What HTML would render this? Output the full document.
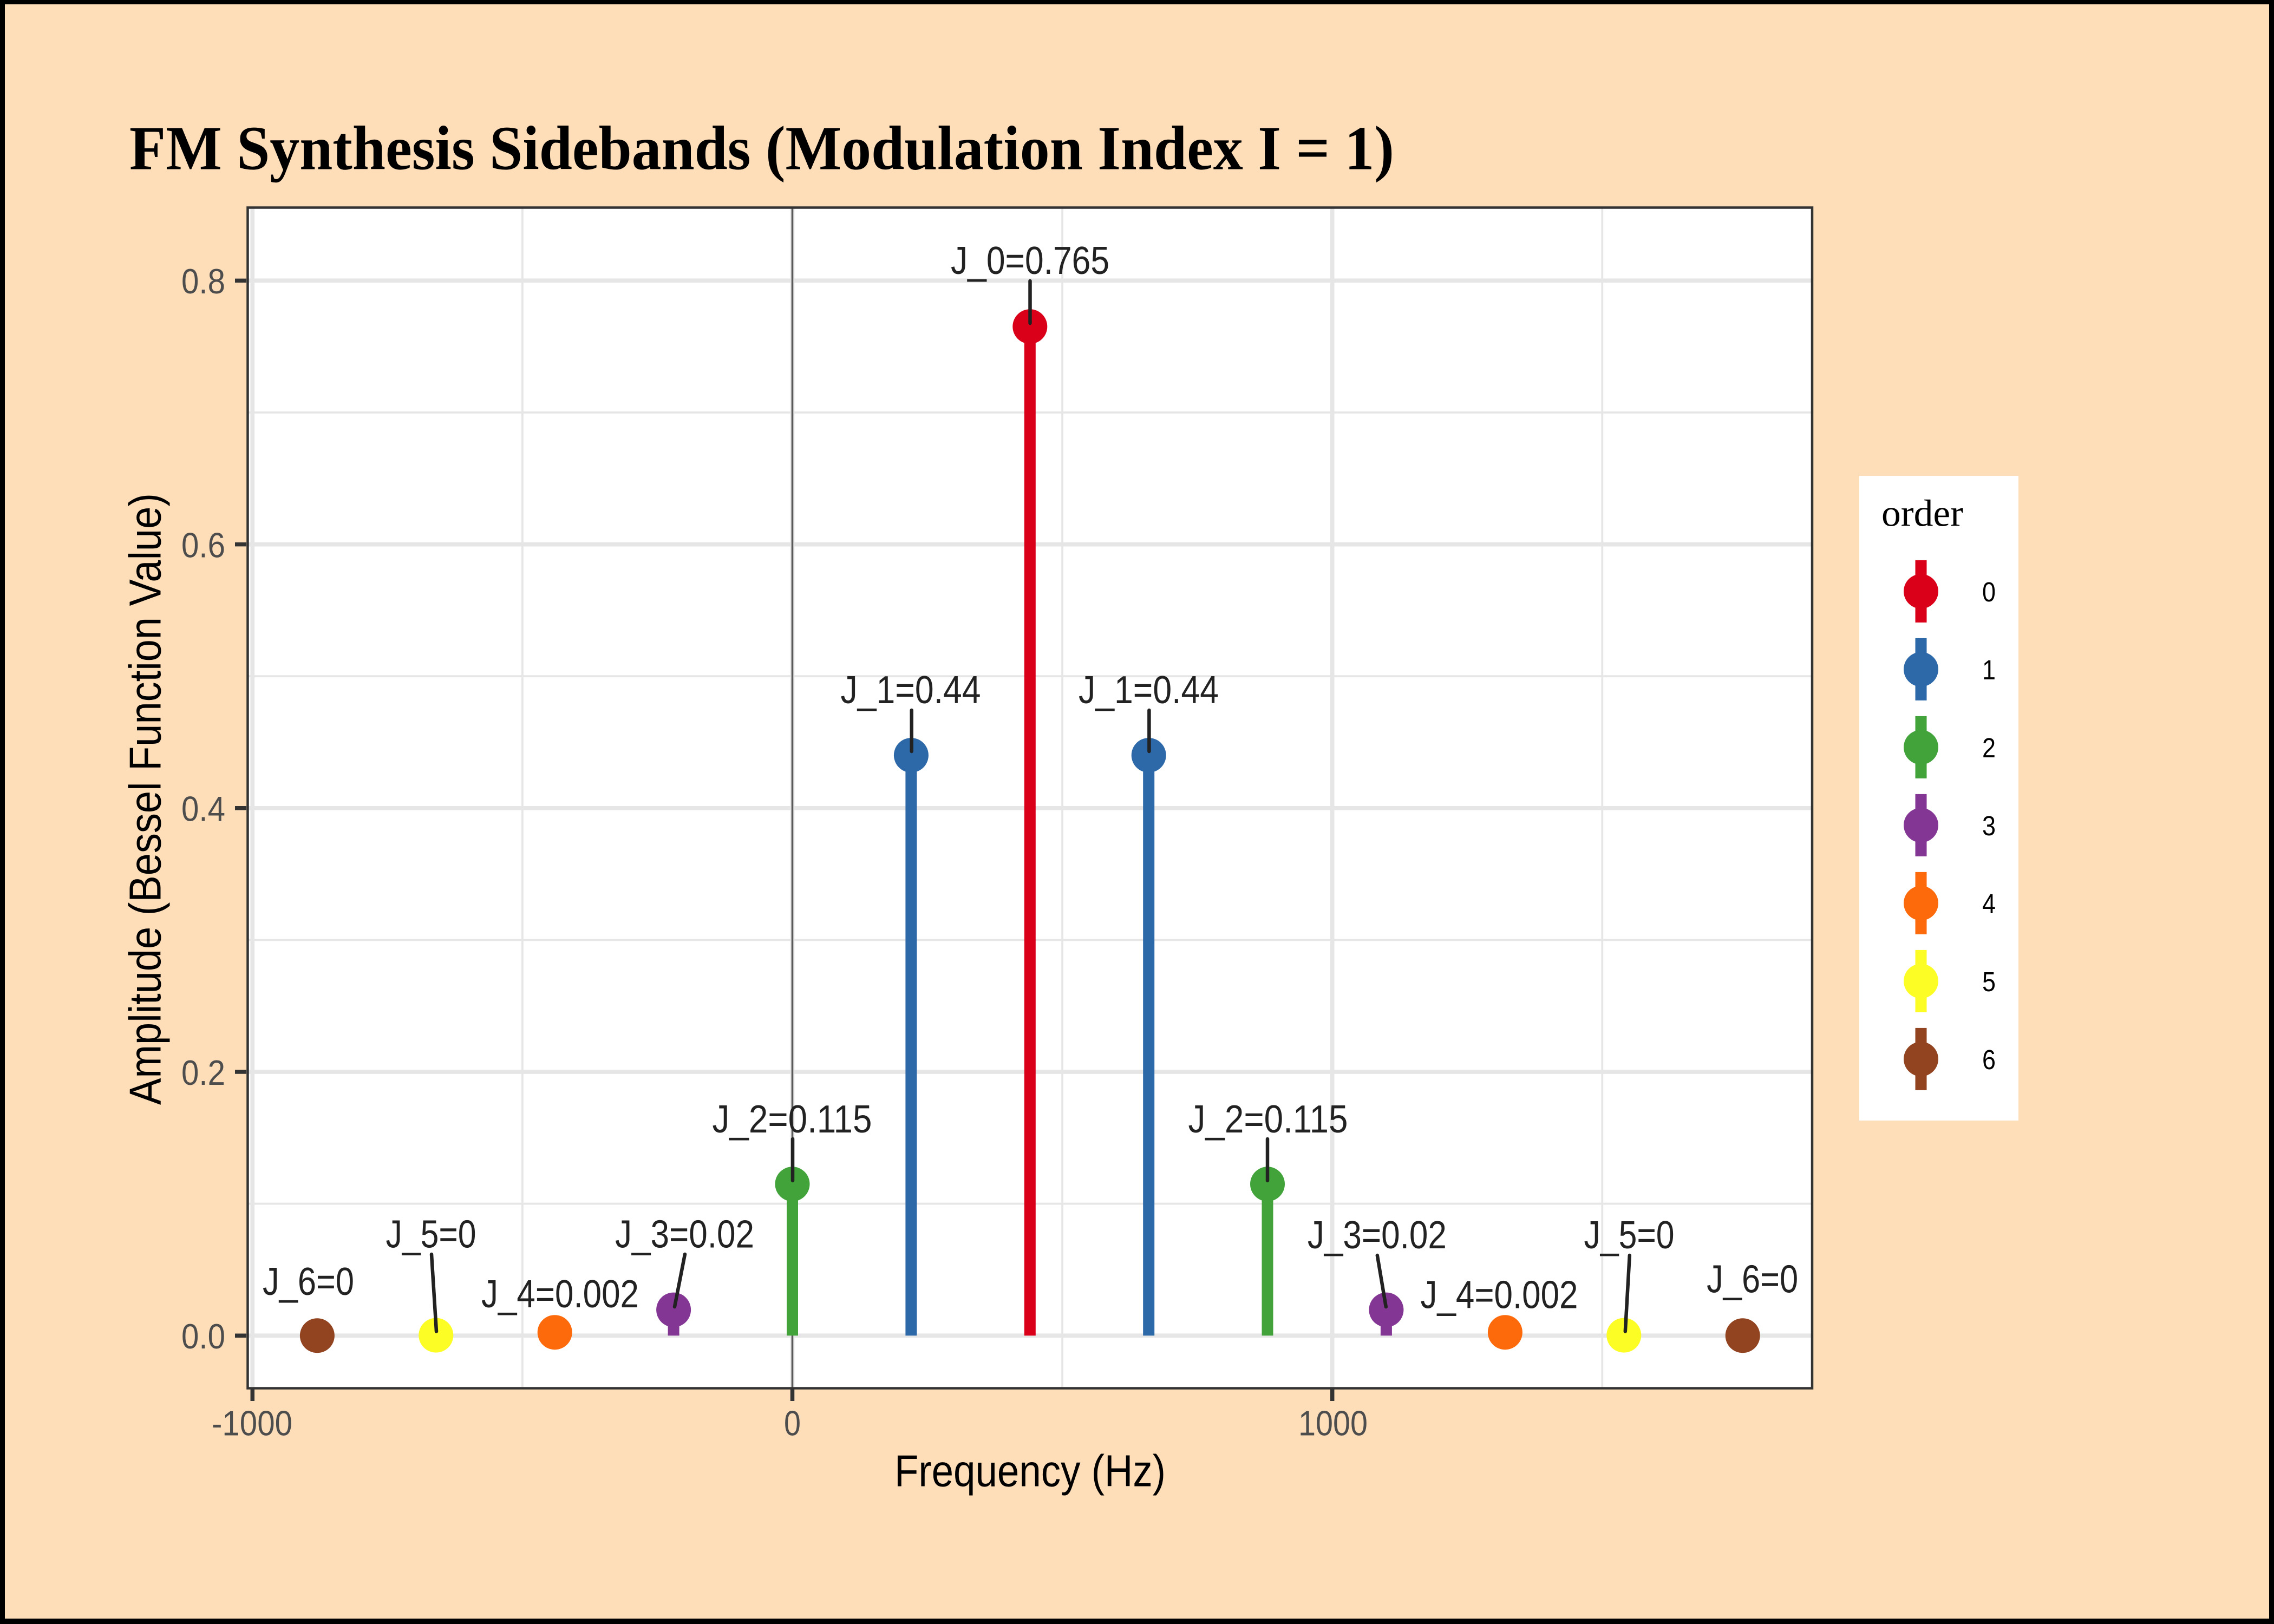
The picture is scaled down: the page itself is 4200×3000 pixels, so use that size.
<!DOCTYPE html>
<html>
<head>
<meta charset="utf-8">
<style>
html,body{margin:0;padding:0;width:4200px;height:3000px;overflow:hidden;background:#000;}
svg{display:block;}
</style>
</head>
<body>
<svg width="4200" height="3000" viewBox="0 0 4200 3000" xmlns="http://www.w3.org/2000/svg">
<rect x="0" y="0" width="4200" height="3000" fill="#000"/>
<rect x="9" y="8" width="4182" height="2982" fill="#FDDEB9"/>

<!-- Title -->
<text x="239" y="312.6" font-family="Liberation Serif, serif" font-weight="bold" font-size="115" fill="#000" textLength="2336" lengthAdjust="spacingAndGlyphs">FM Synthesis Sidebands (Modulation Index I = 1)</text>

<!-- Panel background -->
<rect x="457.5" y="383.5" width="2889.5" height="2181" fill="#fff"/>

<!-- Minor gridlines -->
<g stroke="#E6E6E6" stroke-width="3.8">
<line x1="457.5" x2="3347" y1="2223.6" y2="2223.6"/>
<line x1="457.5" x2="3347" y1="1736.4" y2="1736.4"/>
<line x1="457.5" x2="3347" y1="1249.2" y2="1249.2"/>
<line x1="457.5" x2="3347" y1="762.0" y2="762.0"/>
<line x1="964.9" x2="964.9" y1="383.5" y2="2564.5"/>
<line x1="1962.1" x2="1962.1" y1="383.5" y2="2564.5"/>
<line x1="2959.3" x2="2959.3" y1="383.5" y2="2564.5"/>
</g>
<!-- Major gridlines -->
<g stroke="#E6E6E6" stroke-width="7.7">
<line x1="457.5" x2="3347" y1="2467.2" y2="2467.2"/>
<line x1="457.5" x2="3347" y1="1980.0" y2="1980.0"/>
<line x1="457.5" x2="3347" y1="1492.8" y2="1492.8"/>
<line x1="457.5" x2="3347" y1="1005.6" y2="1005.6"/>
<line x1="457.5" x2="3347" y1="518.4" y2="518.4"/>
<line x1="466.3" x2="466.3" y1="383.5" y2="2564.5"/>
<line x1="1463.5" x2="1463.5" y1="383.5" y2="2564.5"/>
<line x1="2460.7" x2="2460.7" y1="383.5" y2="2564.5"/>
</g>

<!-- vline at 0 -->
<line x1="1463.5" x2="1463.5" y1="383.5" y2="2564.5" stroke="#5A5A5A" stroke-width="3.5"/>

<!-- Stems -->
<g stroke-width="21" stroke-linecap="butt">
<line x1="1902.3" x2="1902.3" y1="2467.2" y2="603.2" stroke="#DA001A"/>
<line x1="1682.9" x2="1682.9" y1="2467.2" y2="1395.1" stroke="#2D68A8"/>
<line x1="2121.7" x2="2121.7" y1="2467.2" y2="1395.1" stroke="#2D68A8"/>
<line x1="1463.5" x2="1463.5" y1="2467.2" y2="2187.3" stroke="#42A33B"/>
<line x1="2341.0" x2="2341.0" y1="2467.2" y2="2187.3" stroke="#42A33B"/>
<line x1="1244.1" x2="1244.1" y1="2467.2" y2="2419.6" stroke="#843694"/>
<line x1="2560.4" x2="2560.4" y1="2467.2" y2="2419.6" stroke="#843694"/>
<line x1="1024.7" x2="1024.7" y1="2467.2" y2="2461.2" stroke="#FD6A0B"/>
<line x1="2779.9" x2="2779.9" y1="2467.2" y2="2461.2" stroke="#FD6A0B"/>
</g>

<!-- Points -->
<circle cx="1902.3" cy="603.2" r="32" fill="#DA001A"/>
<circle cx="1682.9" cy="1395.1" r="32" fill="#2D68A8"/>
<circle cx="2121.7" cy="1395.1" r="32" fill="#2D68A8"/>
<circle cx="1463.5" cy="2187.3" r="32" fill="#42A33B"/>
<circle cx="2341.0" cy="2187.3" r="32" fill="#42A33B"/>
<circle cx="1244.1" cy="2419.6" r="32" fill="#843694"/>
<circle cx="2560.4" cy="2419.6" r="32" fill="#843694"/>
<circle cx="1024.7" cy="2461.2" r="32" fill="#FD6A0B"/>
<circle cx="2779.9" cy="2461.2" r="32" fill="#FD6A0B"/>
<circle cx="805.3" cy="2466.6" r="32" fill="#FDFD26"/>
<circle cx="2999.3" cy="2466.6" r="32" fill="#FDFD26"/>
<circle cx="585.9" cy="2467.2" r="32" fill="#924320"/>
<circle cx="3218.7" cy="2467.2" r="32" fill="#924320"/>

<!-- Label segments -->
<g stroke="#222" stroke-width="6.5" stroke-linecap="round">
<line x1="1902.5" y1="519" x2="1902.5" y2="597"/>
<line x1="1683.7" y1="1312" x2="1683.7" y2="1388"/>
<line x1="2122.4" y1="1312" x2="2122.4" y2="1388"/>
<line x1="1464" y1="2104" x2="1464" y2="2181"/>
<line x1="2341" y1="2104" x2="2341" y2="2181"/>
<line x1="1265" y1="2317" x2="1246" y2="2414"/>
<line x1="2543.8" y1="2319" x2="2559.8" y2="2414"/>
<line x1="797" y1="2317" x2="806" y2="2459.5"/>
<line x1="3009.8" y1="2319" x2="3001.8" y2="2459.5"/>
</g>

<!-- Data labels -->
<g font-family="Liberation Sans, sans-serif" font-size="72" fill="#222" text-anchor="middle" lengthAdjust="spacingAndGlyphs">
<text x="1902.5" y="506" textLength="293" lengthAdjust="spacingAndGlyphs">J_0=0.765</text>
<text x="1682" y="1299" textLength="259" lengthAdjust="spacingAndGlyphs">J_1=0.44</text>
<text x="2121.5" y="1299" textLength="259" lengthAdjust="spacingAndGlyphs">J_1=0.44</text>
<text x="1463" y="2092" textLength="295" lengthAdjust="spacingAndGlyphs">J_2=0.115</text>
<text x="2342" y="2092" textLength="295" lengthAdjust="spacingAndGlyphs">J_2=0.115</text>
<text x="1264.5" y="2304.5" textLength="257" lengthAdjust="spacingAndGlyphs">J_3=0.02</text>
<text x="2543.4" y="2306" textLength="257" lengthAdjust="spacingAndGlyphs">J_3=0.02</text>
<text x="1034.5" y="2415" textLength="291" lengthAdjust="spacingAndGlyphs">J_4=0.002</text>
<text x="2769" y="2416.7" textLength="291" lengthAdjust="spacingAndGlyphs">J_4=0.002</text>
<text x="796" y="2304.5" textLength="167" lengthAdjust="spacingAndGlyphs">J_5=0</text>
<text x="3009" y="2306" textLength="167" lengthAdjust="spacingAndGlyphs">J_5=0</text>
<text x="569.5" y="2392" textLength="169" lengthAdjust="spacingAndGlyphs">J_6=0</text>
<text x="3236.6" y="2387.6" textLength="169" lengthAdjust="spacingAndGlyphs">J_6=0</text>
</g>

<!-- Panel border -->
<rect x="457.5" y="383.5" width="2889.5" height="2181" fill="none" stroke="#333" stroke-width="4.5"/>

<!-- Ticks -->
<g stroke="#333" stroke-width="7.5">
<line x1="434" x2="455" y1="2467.2" y2="2467.2"/>
<line x1="434" x2="455" y1="1980.0" y2="1980.0"/>
<line x1="434" x2="455" y1="1492.8" y2="1492.8"/>
<line x1="434" x2="455" y1="1005.6" y2="1005.6"/>
<line x1="434" x2="455" y1="518.4" y2="518.4"/>
<line x1="466.3" x2="466.3" y1="2566" y2="2588"/>
<line x1="1463.5" x2="1463.5" y1="2566" y2="2588"/>
<line x1="2460.7" x2="2460.7" y1="2566" y2="2588"/>
</g>

<!-- Tick labels -->
<g font-family="Liberation Sans, sans-serif" font-size="65" fill="#4D4D4D">
<text x="335" y="2491" textLength="81" lengthAdjust="spacingAndGlyphs">0.0</text>
<text x="335" y="2003.8" textLength="81" lengthAdjust="spacingAndGlyphs">0.2</text>
<text x="335" y="1516.6" textLength="81" lengthAdjust="spacingAndGlyphs">0.4</text>
<text x="335" y="1029.4" textLength="81" lengthAdjust="spacingAndGlyphs">0.6</text>
<text x="335" y="542.2" textLength="81" lengthAdjust="spacingAndGlyphs">0.8</text>
<text x="391" y="2651.5" textLength="149" lengthAdjust="spacingAndGlyphs">-1000</text>
<text x="1448" y="2651.5" textLength="31" lengthAdjust="spacingAndGlyphs">0</text>
<text x="2398" y="2651.5" textLength="128" lengthAdjust="spacingAndGlyphs">1000</text>
</g>

<!-- Axis titles -->
<text x="1652" y="2745.7" font-family="Liberation Sans, sans-serif" font-size="83" fill="#000" textLength="501" lengthAdjust="spacingAndGlyphs">Frequency (Hz)</text>
<text transform="translate(296.7,1476) rotate(-90)" x="0" y="0" text-anchor="middle" font-family="Liberation Sans, sans-serif" font-size="83" fill="#000" textLength="1130" lengthAdjust="spacingAndGlyphs">Amplitude (Bessel Function Value)</text>

<!-- Legend -->
<rect x="3434" y="879" width="294" height="1191" fill="#fff"/>
<text x="3475" y="971.7" font-family="Liberation Serif, serif" font-size="70" fill="#000" textLength="151" lengthAdjust="spacingAndGlyphs">order</text>
<g>
<rect x="3537.5" y="1034.9" width="21" height="115" fill="#DA001A"/><circle cx="3548" cy="1092.4" r="32" fill="#DA001A"/>
<rect x="3537.5" y="1178.9" width="21" height="115" fill="#2D68A8"/><circle cx="3548" cy="1236.4" r="32" fill="#2D68A8"/>
<rect x="3537.5" y="1322.9" width="21" height="115" fill="#42A33B"/><circle cx="3548" cy="1380.4" r="32" fill="#42A33B"/>
<rect x="3537.5" y="1466.9" width="21" height="115" fill="#843694"/><circle cx="3548" cy="1524.4" r="32" fill="#843694"/>
<rect x="3537.5" y="1610.9" width="21" height="115" fill="#FD6A0B"/><circle cx="3548" cy="1668.4" r="32" fill="#FD6A0B"/>
<rect x="3537.5" y="1754.9" width="21" height="115" fill="#FDFD26"/><circle cx="3548" cy="1812.4" r="32" fill="#FDFD26"/>
<rect x="3537.5" y="1898.9" width="21" height="115" fill="#924320"/><circle cx="3548" cy="1956.4" r="32" fill="#924320"/>
</g>
<g font-family="Liberation Sans, sans-serif" font-size="51" fill="#000">
<text x="3661" y="1110.9" textLength="25" lengthAdjust="spacingAndGlyphs">0</text>
<text x="3661" y="1254.9" textLength="25" lengthAdjust="spacingAndGlyphs">1</text>
<text x="3661" y="1398.9" textLength="25" lengthAdjust="spacingAndGlyphs">2</text>
<text x="3661" y="1542.9" textLength="25" lengthAdjust="spacingAndGlyphs">3</text>
<text x="3661" y="1686.9" textLength="25" lengthAdjust="spacingAndGlyphs">4</text>
<text x="3661" y="1830.9" textLength="25" lengthAdjust="spacingAndGlyphs">5</text>
<text x="3661" y="1974.9" textLength="25" lengthAdjust="spacingAndGlyphs">6</text>
</g>
</svg>
</body>
</html>
